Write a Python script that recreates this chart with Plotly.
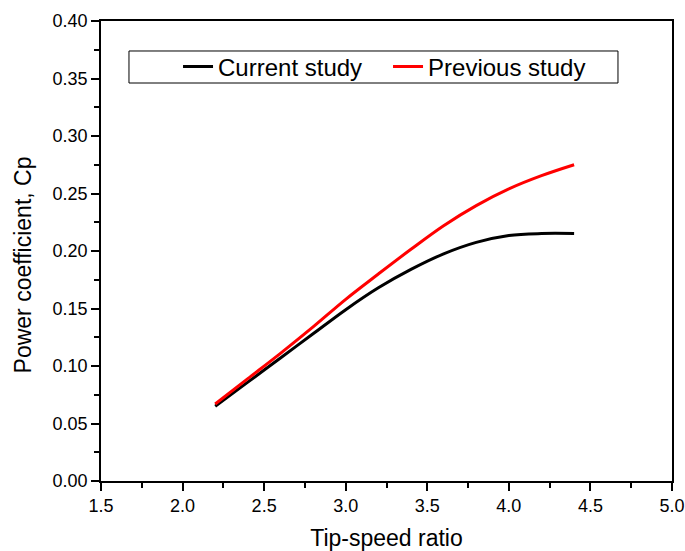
import plotly.graph_objects as go

tsr = [2.2, 2.4, 2.6, 2.8, 3.0, 3.2, 3.4, 3.6, 3.8, 4.0, 4.2, 4.4]
cp_current = [0.065, 0.086, 0.107, 0.128, 0.149, 0.168, 0.184, 0.1975, 0.2075, 0.2135, 0.2152, 0.2152]
cp_previous = [0.067, 0.089, 0.111, 0.134, 0.158, 0.180, 0.2015, 0.222, 0.2395, 0.254, 0.2655, 0.275]

x_ticks = [1.5, 2.0, 2.5, 3.0, 3.5, 4.0, 4.5, 5.0]
y_ticks = [0.00, 0.05, 0.10, 0.15, 0.20, 0.25, 0.30, 0.35, 0.40]

fig = go.Figure()
fig.add_trace(go.Scatter(x=tsr, y=cp_current, mode="lines", name="Current study",
                         line=dict(color="black", width=3, shape="spline")))
fig.add_trace(go.Scatter(x=tsr, y=cp_previous, mode="lines", name="Previous study",
                         line=dict(color="#FF0000", width=3, shape="spline")))

font = "Liberation Sans, Arial, sans-serif"
axis_common = dict(showgrid=False, zeroline=False, showline=True, linecolor="black",
                   linewidth=1.5, mirror=True, ticks="outside", ticklen=8, tickwidth=1.5,
                   tickcolor="black", automargin=False,
                   tickfont=dict(family=font, size=18, color="black"))

fig.update_xaxes(range=[1.5, 5.0], tickvals=x_ticks, tickformat=".1f",
                 title=dict(text="Tip-speed ratio", font=dict(family=font, size=23, color="black"), standoff=20),
                 minor=dict(ticks="outside", ticklen=5, tickwidth=1.5, tickcolor="black", dtick=0.25),
                 **axis_common)
fig.update_yaxes(range=[0, 0.40], tickvals=y_ticks, tickformat=".2f",
                 minor=dict(ticks="outside", ticklen=5, tickwidth=1.5, tickcolor="black", dtick=0.025),
                 **axis_common)

fig.add_annotation(text="Power coefficient, Cp", textangle=-90, xref="paper", yref="paper",
                   x=-0.1349, y=0.4707, xanchor="center", yanchor="middle", showarrow=False,
                   font=dict(family=font, size=23, color="black"))

fig.add_shape(type="rect", xref="paper", yref="paper", x0=0.049, x1=0.9054, y0=0.8652, y1=0.9348,
              line=dict(color="black", width=1), fillcolor="white", layer="below")

fig.update_layout(
    width=685, height=551,
    margin=dict(l=101, r=13, t=21, b=70),
    plot_bgcolor="white", paper_bgcolor="white",
    font=dict(family=font, color="black"),
    showlegend=True,
    legend=dict(orientation="h", x=0.1349, y=0.9, xanchor="left", yanchor="middle",
                borderwidth=0, bgcolor="rgba(0,0,0,0)",
                font=dict(family=font, size=24, color="black"),
                entrywidth=165, itemwidth=30),
)

fig.write_html("out.html", config={"displayModeBar": False},
               post_script="document.body.style.margin='0px';document.body.style.overflow='hidden';")
